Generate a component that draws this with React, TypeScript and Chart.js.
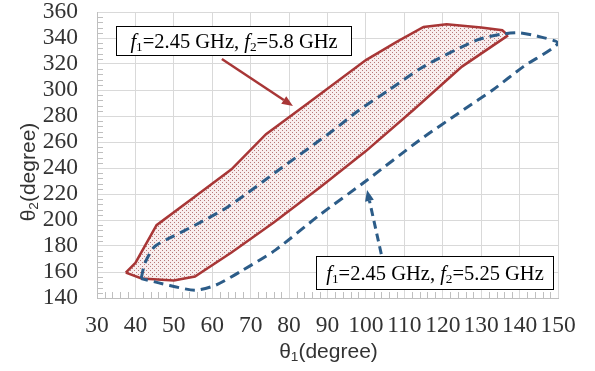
import React, { useEffect, useRef } from 'react';
import { Chart, registerables } from 'chart.js';

Chart.register(...registerables);

// ---------- axis ranges / ticks ----------
const X_MIN = 30;
const X_MAX = 150;
const X_STEP = 10;
const X_MINOR = 2;
const Y_MIN = 140;
const Y_MAX = 360;
const Y_STEP = 20;
const Y_MINOR = 4;

// ---------- series (θ1, θ2) in degrees ----------
// f1=2.45 GHz, f2=5.8 GHz region: upper boundary
const redUpper: [number, number][] = [
  [37.5, 159.5], [40, 167], [45.5, 196], [55, 217], [65, 239], [74, 266],
  [85, 290], [100, 323], [108, 337], [115, 348.5], [121, 350.5], [130, 348],
  [135.5, 346], [137, 342],
];
// f1=2.45 GHz, f2=5.8 GHz region: lower boundary
const redLower: [number, number][] = [
  [37.5, 159.5], [41.6, 155], [50, 153.5], [55.5, 156.5], [65, 175], [76, 198],
  [88, 225], [100, 253], [112.5, 285], [125, 318], [137, 342],
];
// f1=2.45 GHz, f2=5.25 GHz boundary: inner (upper-left) branch
const blueInner: [number, number][] = [
  [41.5, 155], [42.5, 167], [45, 179.5], [49.5, 187], [55.5, 196], [64, 210],
  [78, 240], [91.5, 269], [98, 284], [106, 300], [115, 318], [129, 338.5],
  [135.5, 343], [140, 344], [144.5, 341.5], [150, 336],
];
// f1=2.45 GHz, f2=5.25 GHz boundary: outer (lower-right) branch, returning
const blueOuter: [number, number][] = [
  [141, 318], [133, 300], [125.5, 285], [114, 261.5], [100, 230], [88, 204],
  [76.5, 177], [68, 161.5], [61, 150], [55.5, 146], [47, 151], [41.5, 155],
];

// ---------- texts ----------
type Part = { t: string; italic?: boolean; sub?: boolean };
const label58: Part[] = [
  { t: 'f', italic: true }, { t: '1', sub: true }, { t: '=2.45 GHz, ' },
  { t: 'f', italic: true }, { t: '2', sub: true }, { t: '=5.8 GHz' },
];
const label525: Part[] = [
  { t: 'f', italic: true }, { t: '1', sub: true }, { t: '=2.45 GHz, ' },
  { t: 'f', italic: true }, { t: '2', sub: true }, { t: '=5.25 GHz' },
];
const xTitle: Part[] = [{ t: 'θ' }, { t: '1', sub: true }, { t: '(degree)' }];
const yTitle: Part[] = [{ t: 'θ' }, { t: '2', sub: true }, { t: '(degree)' }];

// ---------- styles ----------
const RED = '#A83636';
const BLUE = '#2C5C88';
const GRID = '#D9D9D9';
const AXIS = '#BFBFBF';
const TICK_TXT = '#333333';
const SERIF = '"Liberation Serif", "Times New Roman", serif';
const SANS = '"Liberation Sans", Arial, sans-serif';

function richWidth(ctx: CanvasRenderingContext2D, parts: Part[], size: number, family: string) {
  let w = 0;
  for (const p of parts) {
    const s = p.sub ? size * 0.65 : size;
    ctx.font = `${p.italic ? 'italic ' : ''}${s}px ${family}`;
    w += ctx.measureText(p.t).width;
  }
  return w;
}

function drawRich(ctx: CanvasRenderingContext2D, parts: Part[], cx: number, baseline: number, size: number, family: string, color: string) {
  const total = richWidth(ctx, parts, size, family);
  let x = cx - total / 2;
  ctx.fillStyle = color;
  ctx.textBaseline = 'alphabetic';
  ctx.textAlign = 'left';
  for (const p of parts) {
    const s = p.sub ? size * 0.65 : size;
    ctx.font = `${p.italic ? 'italic ' : ''}${s}px ${family}`;
    ctx.fillText(p.t, x, baseline + (p.sub ? size * 0.15 : 0));
    x += ctx.measureText(p.t).width;
  }
}

function drawArrow(ctx: CanvasRenderingContext2D, x1: number, y1: number, x2: number, y2: number,
  color: string, width: number, dash: number[], headLen: number, headW: number) {
  const a = Math.atan2(y2 - y1, x2 - x1);
  const bx = x2 - headLen * Math.cos(a);
  const by = y2 - headLen * Math.sin(a);
  ctx.save();
  ctx.strokeStyle = color;
  ctx.lineWidth = width;
  ctx.setLineDash(dash);
  ctx.beginPath();
  ctx.moveTo(x1, y1);
  ctx.lineTo(bx, by);
  ctx.stroke();
  ctx.setLineDash([]);
  ctx.fillStyle = color;
  ctx.beginPath();
  ctx.moveTo(x2, y2);
  ctx.lineTo(bx + (headW / 2) * Math.sin(a), by - (headW / 2) * Math.cos(a));
  ctx.lineTo(bx - (headW / 2) * Math.sin(a), by + (headW / 2) * Math.cos(a));
  ctx.closePath();
  ctx.fill();
  ctx.restore();
}

// annotation anchors (data coordinates)
const box58 = { x0: 34.9, x1: 96.1, yTop: 349.5, yBot: 326.9 };
const box525 = { x0: 87.0, x1: 148.7, yTop: 172.3, yBot: 146.7 };
const arrow58 = { x0: 62.5, y0: 323.8, x1: 81.0, y1: 287.7 };
const arrow525 = { x0: 104.0, y0: 173.8, x1: 100.3, y1: 223.1 };

const minorTicks = {
  id: 'minorTicks',
  beforeDatasetsDraw(chart: any) {
    const { ctx, chartArea, scales } = chart;
    const xs = scales.x, ys = scales.y;
    ctx.save();
    ctx.strokeStyle = AXIS;
    ctx.lineWidth = 1;
    ctx.beginPath();
    for (let v = Y_MIN; v <= Y_MAX; v += Y_MINOR) {
      if (v % Y_STEP === 0) continue;
      const y = Math.round(ys.getPixelForValue(v)) + 0.5;
      ctx.moveTo(chartArea.left, y);
      ctx.lineTo(chartArea.left + 6, y);
    }
    for (let v = X_MIN; v <= X_MAX; v += X_MINOR) {
      if (v % X_STEP === 0) continue;
      const x = Math.round(xs.getPixelForValue(v)) + 0.5;
      ctx.moveTo(x, chartArea.bottom);
      ctx.lineTo(x, chartArea.bottom - 6);
    }
    ctx.stroke();
    ctx.restore();
  },
};

const annotations = {
  id: 'annotations',
  afterDraw(chart: any) {
    const { ctx, scales, chartArea } = chart;
    const xs = scales.x, ys = scales.y;
    const px = (v: number) => xs.getPixelForValue(v);
    const py = (v: number) => ys.getPixelForValue(v);
    ctx.save();

    // arrows
    drawArrow(ctx, px(arrow58.x0), py(arrow58.y0), px(arrow58.x1), py(arrow58.y1), RED, 2.5, [], 11, 9);
    drawArrow(ctx, px(arrow525.x0), py(arrow525.y0), px(arrow525.x1), py(arrow525.y1), BLUE, 3, [8, 5], 11, 9);

    // boxes
    for (const [b, parts] of [[box58, label58], [box525, label525]] as [typeof box58, Part[]][]) {
      const l = Math.round(px(b.x0)) + 0.5, r = Math.round(px(b.x1)) + 0.5;
      const t = Math.round(py(b.yTop)) + 0.5, bt = Math.round(py(b.yBot)) + 0.5;
      ctx.fillStyle = '#FFFFFF';
      ctx.fillRect(l, t, r - l, bt - t);
      ctx.strokeStyle = '#000000';
      ctx.lineWidth = 1;
      ctx.strokeRect(l, t, r - l, bt - t);
      drawRich(ctx, parts, (l + r) / 2, (t + bt) / 2 + 7, 20.5, SERIF, '#000000');
    }

    // axis titles
    const cx = (chartArea.left + chartArea.right) / 2;
    drawRich(ctx, xTitle, cx + 1, 358, 21, SANS, TICK_TXT);
    ctx.translate(27, 172);
    ctx.rotate(-Math.PI / 2);
    drawRich(ctx, yTitle, 0, 7.5, 21, SANS, TICK_TXT);
    ctx.restore();
  },
};

function makePattern(): CanvasPattern | string {
  const c = document.createElement('canvas');
  c.width = 4;
  c.height = 4;
  const g = c.getContext('2d');
  if (!g) return '#F2DADA';
  g.fillStyle = '#F8EEEE';
  g.fillRect(0, 0, 4, 4);
  g.fillStyle = '#B87878';
  g.fillRect(0, 0, 1, 1);
  g.fillRect(2, 2, 1, 1);
  const p = g.createPattern(c, 'repeat');
  return p || '#F2DADA';
}

const toPts = (arr: [number, number][]) => arr.map(([x, y]) => ({ x, y }));

export default function App() {
  const ref = useRef<HTMLCanvasElement | null>(null);

  useEffect(() => {
    if (!ref.current) return;
    const chart = new Chart(ref.current, {
      type: 'scatter',
      data: {
        datasets: [
          {
            label: 'f1=2.45 GHz, f2=5.25 GHz',
            data: toPts([...blueInner, ...blueOuter]),
            showLine: true,
            borderColor: BLUE,
            borderWidth: 3,
            borderDash: [10, 6],
            tension: 0.25,
            pointRadius: 0,
            fill: false,
          },
          {
            label: 'f1=2.45 GHz, f2=5.8 GHz (upper)',
            data: toPts(redUpper),
            showLine: true,
            borderColor: RED,
            borderWidth: 2.5,
            tension: 0,
            pointRadius: 0,
            backgroundColor: makePattern() as any,
            fill: '+1',
          },
          {
            label: 'f1=2.45 GHz, f2=5.8 GHz (lower)',
            data: toPts(redLower),
            showLine: true,
            borderColor: RED,
            borderWidth: 2.5,
            tension: 0,
            pointRadius: 0,
            fill: false,
          },
        ],
      },
      options: {
        animation: false,
        responsive: true,
        maintainAspectRatio: false,
        devicePixelRatio: 1,
        layout: { padding: { left: 0, right: 37, top: 12, bottom: 0 } },
        plugins: {
          legend: { display: false },
          tooltip: { enabled: false },
          filler: { drawTime: 'beforeDatasetsDraw' },
        },
        scales: {
          x: {
            type: 'linear',
            min: X_MIN,
            max: X_MAX,
            afterFit: (s: any) => { s.height = 73; },
            ticks: {
              stepSize: X_STEP,
              autoSkip: false,
              padding: 0,
              color: TICK_TXT,
              font: { family: SERIF, size: 23.5, lineHeight: 1 },
              maxRotation: 0,
              minRotation: 0,
            },
            grid: { color: GRID, lineWidth: 1, drawTicks: true, tickLength: 16, tickColor: 'rgba(0,0,0,0)' },
            border: { color: AXIS, width: 1 },
          },
          y: {
            type: 'linear',
            min: Y_MIN,
            max: Y_MAX,
            afterFit: (s: any) => { s.width = 97; },
            ticks: {
              stepSize: Y_STEP,
              autoSkip: false,
              padding: 0,
              color: TICK_TXT,
              font: { family: SERIF, size: 23.5, lineHeight: 1 },
            },
            grid: { color: GRID, lineWidth: 1, drawTicks: true, tickLength: 19, tickColor: 'rgba(0,0,0,0)' },
            border: { color: AXIS, width: 1 },
          },
        },
      },
      plugins: [minorTicks, annotations],
    });
    return () => chart.destroy();
  }, []);

  return (
    <div style={{ position: 'fixed', left: 0, top: 0, width: 595, height: 371, background: '#FFFFFF' }}>
      <canvas ref={ref} />
    </div>
  );
}
